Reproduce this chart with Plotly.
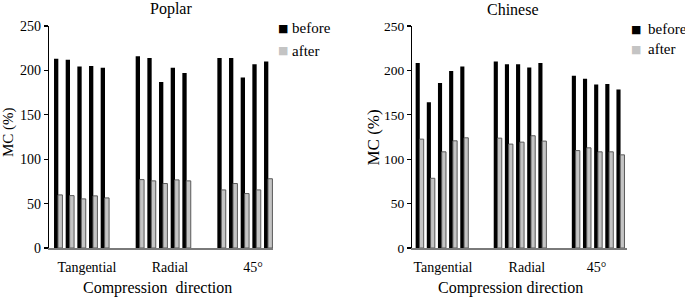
import plotly.graph_objects as go

directions = ["Tangential", "Radial", "45°"]
samples_per_group = 5

poplar_before = [213, 212, 204.5, 205, 203,
                 216, 214, 187, 203, 197,
                 214, 214, 192, 207, 210]
poplar_after = [59.8, 59, 55.3, 58.7, 56.4,
                77, 75.6, 72.6, 76.7, 75.6,
                65.4, 72.6, 61.3, 65.4, 78]

chinese_before = [208.4, 164, 185.7, 199.3, 204.5,
                  210, 207, 207, 203.4, 208.3,
                  194, 190.6, 184, 184.6, 178.5]
chinese_after = [122.6, 78.5, 108.3, 120.7, 124.1,
                 123.7, 117, 119.2, 126.4, 120.4,
                 109.7, 112.8, 108.3, 108.3, 104.9]

y_ticks = [0, 50, 100, 150, 200, 250]

# layout constants (not data)
W, H = 685, 299
T, B = 26, 51
SLOT_GAP = 2  # empty slots between groups
FONT = "'Liberation Serif', 'Times New Roman', 'DejaVu Serif', serif"

def positions(n):
    return [(i // samples_per_group) * (samples_per_group + SLOT_GAP) + i % samples_per_group
            for i in range(n)]

fig = go.Figure()

def add_pair(before, after, xa, ya):
    pos = positions(len(before))
    fig.add_trace(go.Bar(x=pos, y=before, xaxis=xa, yaxis=ya, width=0.37, offset=-0.37,
                         marker=dict(color="black", line=dict(width=0)),
                         name="before", showlegend=False, hoverinfo="skip"))
    fig.add_trace(go.Bar(x=pos, y=after, xaxis=xa, yaxis=ya, width=0.38, offset=-0.03,
                         marker=dict(color="#c4c4c4", line=dict(color="#5a5a5a", width=1)),
                         name="after", showlegend=False, hoverinfo="skip"))

add_pair(poplar_before, poplar_after, "x", "y")
add_pair(chinese_before, chinese_after, "x2", "y2")

def px2x(px):
    return px / W

def px2y(py):
    return (H - B - py) / (H - T - B)

xcommon = dict(showgrid=False, zeroline=False, showline=True, linecolor="#7a7a7a", linewidth=2,
               ticks="", tickfont=dict(family=FONT, size=14, color="black"),
               ticklabelstandoff=5)
ycommon = dict(range=[0, 250], tickvals=y_ticks, showgrid=False, zeroline=False, showline=True,
               linecolor="black", linewidth=1.3, ticks="outside", ticklen=4, tickcolor="black",
               tickwidth=1.2)

fig.update_layout(
    width=W, height=H,
    margin=dict(l=0, r=0, t=T, b=B),
    paper_bgcolor="white", plot_bgcolor="white",
    font=dict(family=FONT, color="black"),
    barmode="overlay",
    xaxis=dict(domain=[49 / W, 273 / W], range=[-0.8, 18.4],
               tickvals=[2.46, 9.57, 16.7], ticktext=directions, anchor="y", **xcommon),
    yaxis=dict(domain=[0, 1], anchor="x", tickfont=dict(family=FONT, size=14, color="black"),
               **ycommon),
    xaxis2=dict(domain=[412.3 / W, 626.7 / W], range=[-0.67, 18.55],
                tickvals=[2.08, 9.6, 15.85], ticktext=directions, anchor="y2", **xcommon),
    yaxis2=dict(domain=[0, 1], anchor="x2", tickfont=dict(family=FONT, size=13.5, color="black"),
                **ycommon),
    showlegend=False,
)

ann = []
def text(s, x, y, size=16, angle=0, xanchor="center", color="black", family=FONT):
    ann.append(dict(text=s, x=px2x(x), y=px2y(y), xref="paper", yref="paper",
                    xanchor=xanchor, yanchor="middle", showarrow=False, textangle=angle,
                    font=dict(family=family, size=size, color=color)))

text("Poplar", 171, 9.5)
text("Chinese", 513, 9.5)
text("MC (%)", 8, 132, size=15, angle=-90)
text("MC (%)", 372.5, 137, size=17, angle=-90)
text("Compression&nbsp;&nbsp;direction", 157, 288)
text("Compression direction", 510, 288)

# legends
for (sx, tx, yb, ya) in [(283, 290, 28, 50.5), (636, 646, 29.5, 49)]:
    text("■", sx, yb, size=11, color="black", family="DejaVu Sans")
    text("before", tx, yb, size=15, xanchor="left")
    text("■", sx, ya, size=11, color="#c4c4c4", family="DejaVu Sans")
    text("after", tx, ya, size=15, xanchor="left")

fig.update_layout(annotations=ann)
fig.write_html("out.html", config={"displayModeBar": False, "staticPlot": True},
               post_script="document.body.style.margin='0';document.body.style.padding='0';")
